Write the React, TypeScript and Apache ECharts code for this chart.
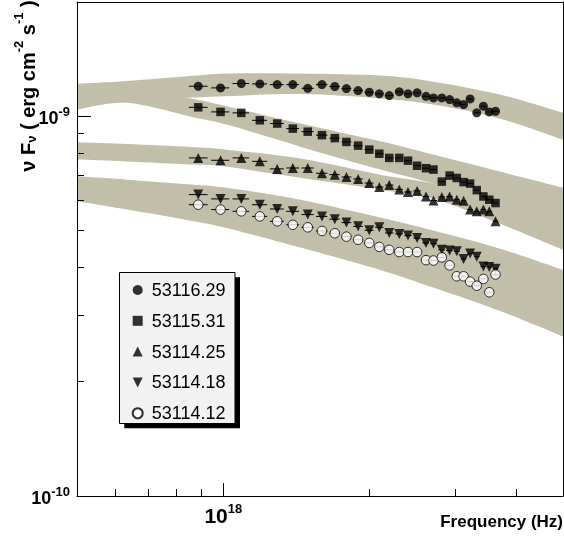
import React, { useEffect, useRef } from "react";
import * as echarts from "echarts";

// ---------- data ----------
// photon frequency of each spectral bin, in units of 1e18 Hz
const FREQ_E18 = [
  0.888, 0.987, 1.089, 1.189, 1.291, 1.39, 1.492, 1.596, 1.696, 1.792, 1.894, 1.997, 2.094, 2.195,
  2.302, 2.399, 2.505, 2.613, 2.707, 2.816, 2.922, 3.023, 3.122, 3.22, 3.323, 3.429, 3.526, 3.632,
];
// nu F_nu in units of 1e-9 erg cm^-2 s^-1
const NUFNU_53116_29 = [
  1.2, 1.188, 1.22, 1.217, 1.212, 1.212, 1.185, 1.212, 1.198, 1.183, 1.169, 1.157, 1.146, 1.134,
  1.16, 1.146, 1.153, 1.129, 1.118, 1.118, 1.107, 1.085, 1.074, 1.111, 1.021, 1.063, 1.027, 1.031,
];
const NUFNU_53115_31 = [
  1.056, 1.027, 1.021, 0.976, 0.957, 0.928, 0.911, 0.892, 0.876, 0.856, 0.837, 0.817, 0.797, 0.777,
  0.777, 0.764, 0.741, 0.73, 0.724, 0.673, 0.698, 0.688, 0.671, 0.665, 0.639, 0.615, 0.603, 0.591,
];
const NUFNU_53114_25 = [
  0.777, 0.766, 0.777, 0.761, 0.727, 0.731, 0.731, 0.708, 0.702, 0.692, 0.684, 0.667, 0.651, 0.659,
  0.642, 0.632, 0.636, 0.615, 0.6, 0.613, 0.615, 0.603, 0.599, 0.568, 0.562, 0.568, 0.562, 0.529,
];
const NUFNU_53114_18 = [
  0.622, 0.606, 0.606, 0.585, 0.57, 0.562, 0.551, 0.545, 0.536, 0.525, 0.513, 0.501, 0.51, 0.493,
  0.49, 0.485, 0.478, 0.464, 0.462, 0.445, 0.443, 0.441, 0.421, 0.435, 0.427, 0.402, 0.401, 0.397,
];
const NUFNU_53114_12 = [
  0.585, 0.568, 0.562, 0.545, 0.529, 0.518, 0.51, 0.499, 0.492, 0.482, 0.473, 0.464, 0.453, 0.445,
  0.439, 0.439, 0.439, 0.418, 0.417, 0.425, 0.405, 0.379, 0.379, 0.367, 0.358, 0.373, 0.344, 0.383,
];
const SERIES_NAMES = ["53116.29", "53115.31", "53114.25", "53114.18", "53114.12"];

// model uncertainty bands (1e18 Hz / 1e-9 erg cm^-2 s^-1)
const BAND_FREQ_E18 = [0.5, 0.633, 0.857, 1.016, 1.441, 2.104, 2.703, 3.71, 5.0];
const BAND_A_UPPER = [1.217, 1.238, 1.276, 1.296, 1.296, 1.28, 1.234, 1.141, 1.021];
const BAND_A_LOWER = [1.08, 1.1, 1.12, 1.13, 1.144, 1.114, 1.074, 0.986, 0.868];
const BAND_B_UPPER = [1.19, 1.176, 1.114, 1.063, 0.957, 0.859, 0.793, 0.715, 0.649];
const BAND_B_LOWER = [1.042, 1.085, 0.998, 0.951, 0.832, 0.724, 0.665, 0.585, 0.497];
const BAND_C_UPPER = [0.854, 0.845, 0.83, 0.817, 0.774, 0.702, 0.665, 0.592, 0.518];
const BAND_C_LOWER = [0.769, 0.76, 0.746, 0.736, 0.689, 0.641, 0.607, 0.521, 0.445];
const BAND_D_UPPER = [0.695, 0.681, 0.661, 0.648, 0.603, 0.541, 0.5, 0.448, 0.394];
const BAND_D_LOWER = [0.597, 0.568, 0.531, 0.508, 0.451, 0.394, 0.354, 0.307, 0.263];

// axes
const X_RANGE_HZ = [5e17, 5e18];
const Y_RANGE = [1e-10, 2e-9];
const X_MINOR_TICKS_HZ = [6e17, 7e17, 8e17, 9e17, 2e18, 3e18, 4e18];
const X_MAJOR_TICKS_HZ = [1e18];
const Y_MINOR_TICKS = [2e-10, 3e-10, 4e-10, 5e-10, 6e-10, 7e-10, 8e-10, 9e-10];
const Y_MAJOR_TICKS = [1e-10, 1e-9];

// ---------- styling ----------
const FONT = "'Liberation Sans', Arial, Helvetica, sans-serif";
const BAND_COLOR = "#c1bea9";

const lg = Math.log10;
const lx = (fE18: number) => lg(fE18 * 1e18);
const ly = (vE9: number) => lg(vE9 * 1e-9);

// smooth filled band between two edges (Catmull-Rom -> cubic Bezier)
function smoothEdge(ctx: any, pts: number[][], moveFirst: boolean) {
  const n = pts.length;
  if (moveFirst) ctx.moveTo(pts[0][0], pts[0][1]);
  else ctx.lineTo(pts[0][0], pts[0][1]);
  for (let i = 0; i < n - 1; i++) {
    const p0 = pts[Math.max(0, i - 1)];
    const p1 = pts[i];
    const p2 = pts[i + 1];
    const p3 = pts[Math.min(n - 1, i + 2)];
    const t = 1 / 6;
    ctx.bezierCurveTo(
      p1[0] + (p2[0] - p0[0]) * t,
      p1[1] + (p2[1] - p0[1]) * t,
      p2[0] - (p3[0] - p1[0]) * t,
      p2[1] - (p3[1] - p1[1]) * t,
      p2[0],
      p2[1]
    );
  }
}
const BandShape = (echarts.graphic as any).extendShape({
  shape: { upper: [] as number[][], lower: [] as number[][] },
  buildPath(ctx: any, shape: any) {
    const up = shape.upper;
    const lo = shape.lower.slice().reverse();
    if (!up.length) return;
    smoothEdge(ctx, up, true);
    smoothEdge(ctx, lo, false);
    ctx.closePath();
  },
});
(echarts.graphic as any).registerShape("bandArea", BandShape);

const SYMBOLS = [
  { symbol: "circle", size: 9, itemStyle: { color: "#000" } },
  { symbol: "rect", size: 8.5, itemStyle: { color: "#000" } },
  { symbol: "triangle", size: 10, itemStyle: { color: "#000" } },
  { symbol: "path://M0,0L2,0L1,2Z", size: 10, itemStyle: { color: "#000" } },
  { symbol: "circle", size: 9.5, itemStyle: { color: "#fff", borderColor: "#000", borderWidth: 1 } },
];

function App() {
  const ref = useRef<HTMLDivElement>(null);
  useEffect(() => {
    if (!ref.current) return;
    const chart = echarts.init(ref.current, null, { renderer: "svg" });
    const allSeries = [NUFNU_53116_29, NUFNU_53115_31, NUFNU_53114_25, NUFNU_53114_18, NUFNU_53114_12];
    const bands = [
      [BAND_A_LOWER, BAND_A_UPPER],
      [BAND_B_LOWER, BAND_B_UPPER],
      [BAND_C_LOWER, BAND_C_UPPER],
      [BAND_D_LOWER, BAND_D_UPPER],
    ];
    const series: any[] = [];
    bands.forEach(([lo, hi], k) => {
      const data = BAND_FREQ_E18.map((f, i) => [lx(f), ly(lo[i]), ly(hi[i])]);
      series.push({
        name: `band${k}`,
        type: "custom",
        silent: true,
        clip: true,
        z: 1,
        encode: { x: 0, y: [1, 2] },
        data,
        renderItem: (params: any, api: any) => {
          if (params.dataIndex !== 0) return { type: "group", children: [] };
          const upper = data.map((d) => api.coord([d[0], d[2]]));
          const lower = data.map((d) => api.coord([d[0], d[1]]));
          return {
            type: "bandArea",
            shape: { upper, lower },
            style: { fill: BAND_COLOR, stroke: null },
          };
        },
      });
    });
    const n = FREQ_E18.length;
    allSeries.forEach((ys, s) => {
      const errData = FREQ_E18.map((f, i) => {
        const x = lx(f);
        const prev = i > 0 ? lx(FREQ_E18[i - 1]) : null;
        const next = i < n - 1 ? lx(FREQ_E18[i + 1]) : null;
        const dl = prev !== null ? x - prev : (next as number) - x;
        const dr = next !== null ? next - x : x - (prev as number);
        return [x, ly(ys[i]), x - 0.42 * dl, x + 0.42 * dr];
      });
      series.push({
        name: `err${s}`,
        type: "custom",
        silent: true,
        z: 3,
        encode: { x: 0, y: 1 },
        data: errData,
        renderItem: (_p: any, api: any) => {
          const y = api.value(1);
          const a = api.coord([api.value(2), y]);
          const b = api.coord([api.value(3), y]);
          return {
            type: "line",
            shape: { x1: a[0], y1: a[1], x2: b[0], y2: b[1] },
            style: { stroke: "#000", lineWidth: 1 },
          };
        },
      });
      series.push({
        name: SERIES_NAMES[s],
        type: "scatter",
        symbol: SYMBOLS[s].symbol,
        symbolSize: SYMBOLS[s].size,
        itemStyle: SYMBOLS[s].itemStyle,
        data: FREQ_E18.map((f, i) => [lx(f), ly(ys[i])]),
        z: 4,
        silent: true,
      });
    });

    const supFmt = (v: number) => `{b|10}{s|${Math.round(v)}}`;
    const baseAxis = (min: number, max: number) => ({
      type: "value",
      min,
      max,
      splitLine: { show: false },
      z: 10,
    });
    const xMin = lg(X_RANGE_HZ[0]);
    const xMax = lg(X_RANGE_HZ[1]);
    const yMin = lg(Y_RANGE[0]);
    const yMax = lg(Y_RANGE[1]);

    const option: any = {
      animation: false,
      grid: { left: 77, right: 1, top: 2, bottom: 41, containLabel: false },
      legend: {
        data: SERIES_NAMES,
        orient: "vertical",
        left: 131.7,
        top: 281,
        padding: 0,
        itemWidth: 10,
        itemHeight: 10,
        itemGap: 12.8,
        z: 20,
        selectedMode: false,
        textStyle: { fontSize: 18, color: "#000", fontFamily: FONT, padding: [0, 0, 0, 4] },
      },
      xAxis: [
        {
          ...baseAxis(xMin, xMax),
          position: "bottom",
          axisLine: { show: true, onZero: false, lineStyle: { color: "#000", width: 1 } },
          axisTick: {
            show: true,
            inside: true,
            length: 7,
            customValues: X_MINOR_TICKS_HZ.map(lg),
            lineStyle: { color: "#000", width: 1 },
          },
          axisLabel: { show: false },
        },
        {
          ...baseAxis(xMin, xMax),
          position: "bottom",
          axisLine: { show: false, onZero: false },
          axisTick: {
            show: true,
            inside: true,
            length: 13,
            customValues: X_MAJOR_TICKS_HZ.map(lg),
            lineStyle: { color: "#000", width: 1 },
          },
          axisLabel: {
            show: true,
            customValues: X_MAJOR_TICKS_HZ.map(lg),
            margin: 6,
            formatter: supFmt,
            rich: {
              b: { fontSize: 21, fontWeight: "bold", fontFamily: FONT, color: "#000", lineHeight: 24, verticalAlign: "bottom" },
              s: { fontSize: 13, fontWeight: "bold", fontFamily: FONT, color: "#000", lineHeight: 13, verticalAlign: "top" },
            },
          },
        },
        {
          ...baseAxis(xMin, xMax),
          position: "top",
          axisLine: { show: true, onZero: false, lineStyle: { color: "#000", width: 1 } },
          axisTick: { show: false },
          axisLabel: { show: false },
        },
      ],
      yAxis: [
        {
          ...baseAxis(yMin, yMax),
          position: "left",
          axisLine: { show: true, onZero: false, lineStyle: { color: "#000", width: 1 } },
          axisTick: {
            show: true,
            inside: true,
            length: 7,
            customValues: Y_MINOR_TICKS.map(lg),
            lineStyle: { color: "#000", width: 1 },
          },
          axisLabel: { show: false },
        },
        {
          ...baseAxis(yMin, yMax),
          position: "left",
          axisLine: { show: false, onZero: false },
          axisTick: {
            show: true,
            inside: true,
            length: 14,
            customValues: Y_MAJOR_TICKS.map(lg),
            lineStyle: { color: "#000", width: 1 },
          },
          axisLabel: {
            show: true,
            customValues: Y_MAJOR_TICKS.map(lg),
            margin: 7,
            formatter: supFmt,
            rich: {
              b: { fontSize: 18, fontWeight: "bold", fontFamily: FONT, color: "#000", lineHeight: 22, verticalAlign: "bottom" },
              s: { fontSize: 13, fontWeight: "bold", fontFamily: FONT, color: "#000", lineHeight: 13, verticalAlign: "top" },
            },
          },
        },
        {
          ...baseAxis(yMin, yMax),
          position: "right",
          axisLine: { show: true, onZero: false, lineStyle: { color: "#000", width: 1 } },
          axisTick: { show: false },
          axisLabel: { show: false },
        },
      ],
      graphic: [
        {
          type: "rect",
          z: 15,
          shape: { x: 124.3, y: 277.3, width: 115.7, height: 151 },
          style: { fill: "#000" },
          silent: true,
        },
        {
          type: "rect",
          z: 16,
          shape: { x: 119.5, y: 272.5, width: 115.5, height: 151 },
          style: { fill: "#f2f2f2", stroke: "#000", lineWidth: 1 },
          silent: true,
        },
        {
          type: "text",
          z: 20,
          x: 563,
          y: 521.5,
          style: {
            text: "Frequency (Hz)",
            font: `bold 17px ${FONT}`,
            fill: "#000",
            align: "right",
            verticalAlign: "middle",
          },
          silent: true,
        },
        {
          type: "text",
          z: 20,
          x: 25,
          y: 86,
          rotation: Math.PI / 2,
          style: {
            text: "{m|\u03bd F}{sub|\u03bd}{m|\u00a0(\u00a0erg cm}{sup|-2}{m|\u00a0s}{sup|-1}{m|\u00a0)}",
            align: "center",
            verticalAlign: "middle",
            rich: {
              m: { fontSize: 20, fontWeight: "bold", fontFamily: FONT, fill: "#000", lineHeight: 26, verticalAlign: "bottom" },
              sub: { fontSize: 13, fontWeight: "bold", fontFamily: FONT, fill: "#000", lineHeight: 13, verticalAlign: "bottom" },
              sup: { fontSize: 13, fontWeight: "bold", fontFamily: FONT, fill: "#000", lineHeight: 13, verticalAlign: "top" },
            },
          },
          silent: true,
        },
      ],
      series,
    };
    chart.setOption(option);
    return () => chart.dispose();
  }, []);
  return <div ref={ref} style={{ position: "fixed", left: 0, top: 0, width: 564, height: 537 }} />;
}

export default App;
